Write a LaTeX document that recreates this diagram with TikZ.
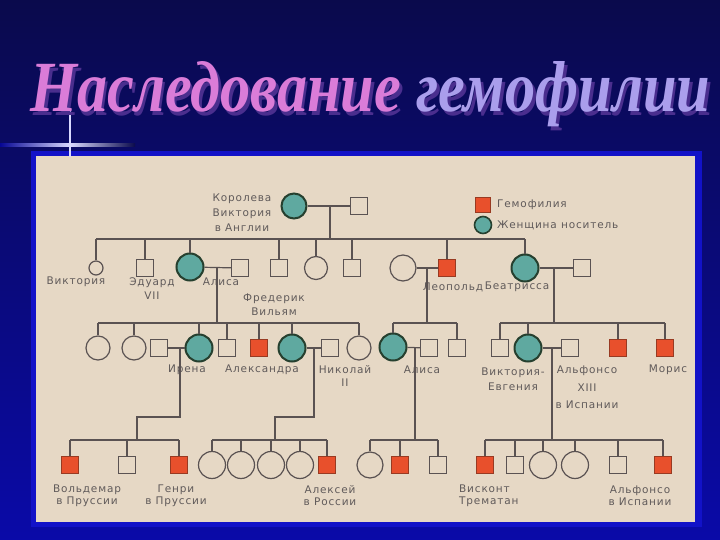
\documentclass[tikz,border=0pt]{standalone}
\usepackage{fontspec}
\usepackage{graphicx}
\usepackage{xcolor}
\newfontfamily\lblfont[LetterSpace=8]{DejaVu Sans}
\newfontfamily\titlefont{Liberation Serif}
\usepackage{tikz}
\usetikzlibrary{positioning}

\definecolor{slidetop}{HTML}{0A0A4C}
\definecolor{slidebot}{HTML}{0A0AA8}
\definecolor{glowblue}{HTML}{1212C8}
\definecolor{paper}{HTML}{E6D8C5}
\definecolor{ink}{HTML}{5A5252}
\definecolor{lblgray}{HTML}{605A5A}
\definecolor{carrierfill}{HTML}{5FA9A0}
\definecolor{carrierline}{HTML}{26402F}
\definecolor{sickfill}{HTML}{E8502C}
\definecolor{sickline}{HTML}{983A22}
\definecolor{titlepink}{HTML}{DA7CD8}
\definecolor{titlelav}{HTML}{AA9EEC}
\definecolor{titleshadow}{HTML}{4A2E8E}

\begin{document}
\begin{tikzpicture}[x=1pt,y=-1pt]
	\begin{scope}

\tikzset{male/.style={draw=ink,line width=1.2pt,rectangle,minimum size=17pt,inner sep=0}}
\tikzset{female/.style={draw=ink,line width=1.2pt,circle,minimum size=24pt,inner sep=0}}
\tikzset{carrier/.style={female,fill=carrierfill,draw=carrierline,line width=2pt,minimum size=27pt}}
\tikzset{sick/.style={male,fill=sickfill,draw=sickline}}
\tikzset{lbl/.style={font=\lblfont\fontsize{10.5}{14}\selectfont,text=lblgray,align=center,inner sep=0}}
\tikzset{tie/.style={draw=ink,line width=1.2pt}}

\useasboundingbox (0,0) rectangle (720,540);

% slide and the scanned sheet
\fill[top color=slidetop,bottom color=slidebot] (0,0) rectangle (720,540);
\fill[glowblue] (31,151) rectangle (702,527);
\fill[paper] (36,156) rectangle (695,522);

% the cross at the left
\shade[left color=slidetop!60!blue,right color=white!85!blue] (0,144) rectangle (70,146.5);
\shade[left color=white!85!blue,right color=slidetop] (70,144) rectangle (135,146.5);
\draw[white!85!blue,line width=1.2pt] (70,108) -- (70,157);

% title (shadow set under the letters)
\node(title)[anchor=base west,inner sep=0] at (30,112)
	{\resizebox{680pt}{50pt}{\titlefont\bfseries\itshape\fontsize{64}{70}\selectfont
	\rlap{\hspace{3pt}\raisebox{-3pt}{\textcolor{titleshadow}{Наследование гемофилии}}}%
	\textcolor{titlepink}{Наследование} \textcolor{titlelav}{гемофилии}}};

% legend
\node(keysick)[sick,minimum size=15pt] at (483,205){};
\node(keycar)[carrier,minimum size=17pt,line width=1.6pt] at (483,225){};
\node(lkeysick)[lbl,anchor=west] at (497,205){Гемофилия};
\node(lkeycar)[lbl,anchor=west] at (497,225){Женщина носитель};

% generation I
\node(qv)[carrier,minimum size=25pt] at (294,206){};
\node(alb)[male] at (359,206){};
\node(lqv)[lbl,font=\lblfont\fontsize{10.5}{15}\selectfont] at (242,213){Королева\\Виктория\\в Англии};

% generation II
\node(vic)[female,minimum size=14pt] at (96,268){};
\node(edw)[male] at (145,268){};
\node(ali)[carrier] at (190,267){};
\node(fre)[male] at (240,268){};
\node(g2a)[male] at (279,268){};
\node(g2b)[female,minimum size=23pt] at (316,268){};
\node(g2c)[male] at (352,268){};
\node(leow)[female,minimum size=26pt] at (403,268){};
\node(leo)[sick] at (447,268){};
\node(bea)[carrier] at (525,268){};
\node(hen)[male] at (582,268){};

\node(lvic)[lbl] at (76,282){Виктория};
\node(ledw)[lbl] at (152,289){Эдуард\\VII};
\node(lali)[lbl] at (221,282){Алиса};
\node(lfre)[lbl] at (274,305){Фредерик\\Вильям};
\node(lleo)[lbl] at (453,287){Леопольд};
\node(lbea)[lbl] at (517,287){Беатрисса};

\coordinate(m1) at (330,206);
\coordinate(r2) at (0,239);
\draw[tie] (qv) -- (alb);
\draw[tie] (m1) -- (m1 |- r2);
\draw[tie] (vic.north |- r2) -- (bea.north |- r2);
\foreach \c in {vic,edw,ali,g2a,g2b,g2c,leo,bea}
{
\draw[tie] (\c.north |- r2) -- (\c.north);
}

% generation III
\node(a1)[female] at (98,348){};
\node(a2)[female] at (134,348){};
\node(irs)[male] at (159,348){};
\node(ire)[carrier] at (199,348){};
\node(a3)[male] at (227,348){};
\node(a4)[sick] at (259,348){};
\node(alx)[carrier] at (292,348){};
\node(nic)[male] at (330,348){};
\node(a5)[female] at (359,348){};
\node(al2)[carrier] at (393,347){};
\node(al2h)[male] at (429,348){};
\node(l2)[male] at (457,348){};
\node(b1)[male] at (500,348){};
\node(ve)[carrier] at (528,348){};
\node(alf)[male] at (570,348){};
\node(b2)[sick] at (618,348){};
\node(mau)[sick] at (665,348){};

\node(lire)[lbl] at (187,370){Ирена};
\node(lalx)[lbl] at (262,370){Александра};
\node(lnic)[lbl,font=\lblfont\fontsize{10.5}{13}\selectfont] at (345,376.5){Николай\\II};
\node(lal2)[lbl] at (422,370){Алиса};
\node(lve)[lbl,font=\lblfont\fontsize{10.5}{15}\selectfont] at (513,379.5){Виктория-\\Евгения};
\node(lalf)[lbl,font=\lblfont\fontsize{10.5}{17.5}\selectfont] at (587,387.5){Альфонсо\\XIII\\в Испании};
\node(lmau)[lbl] at (668,370){Морис};

\coordinate(m2) at (217,267);
\coordinate(m3) at (427,268);
\coordinate(m4) at (554,268);
\coordinate(r3) at (0,323);
\draw[tie] (ali) -- (fre);
\draw[tie] (leow) -- (leo);
\draw[tie] (bea) -- (hen);
\draw[tie] (m2) -- (m2 |- r3);
\draw[tie] (m3) -- (m3 |- r3);
\draw[tie] (m4) -- (m4 |- r3);
\draw[tie] (a1.north |- r3) -- (a5.north |- r3);
\draw[tie] (al2.north |- r3) -- (l2.north |- r3);
\draw[tie] (b1.north |- r3) -- (mau.north |- r3);
\foreach \c in {a1,a2,ire,a3,a4,alx,a5,al2,l2,b1,ve,b2,mau}
{
\draw[tie] (\c.north |- r3) -- (\c.north);
}

% generation IV
\node(wal)[sick] at (70,465){};
\node(p1)[male] at (127,465){};
\node(hnr)[sick] at (179,465){};
\node(d1)[female,minimum size=27pt] at (212,465){};
\node(d2)[female,minimum size=27pt] at (241,465){};
\node(d3)[female,minimum size=27pt] at (271,465){};
\node(d4)[female,minimum size=27pt] at (300,465){};
\node(alk)[sick] at (327,465){};
\node(c1)[female,minimum size=26pt] at (370,465){};
\node(c2)[sick] at (400,465){};
\node(c3)[male] at (438,465){};
\node(vis)[sick] at (485,465){};
\node(e1)[male] at (515,465){};
\node(e2)[female,minimum size=27pt] at (543,465){};
\node(e3)[female,minimum size=27pt] at (575,465){};
\node(e4)[male] at (618,465){};
\node(alf2)[sick] at (663,465){};

\node(lwal)[lbl,font=\lblfont\fontsize{10.5}{12}\selectfont] at (87,496){Вольдемар\\в Пруссии};
\node(lhnr)[lbl,font=\lblfont\fontsize{10.5}{12}\selectfont] at (176,496){Генри\\в Пруссии};
\node(lalk)[lbl,font=\lblfont\fontsize{10.5}{12}\selectfont] at (330,496){Алексей\\в России};
\node(lvis)[lbl,font=\lblfont\fontsize{10.5}{12}\selectfont,anchor=west,align=left] at (459,496){Висконт\\Трематан};
\node(lalf2)[lbl,font=\lblfont\fontsize{10.5}{12}\selectfont] at (640,496){Альфонсо\\в Испании};

\coordinate(m5) at (180,348);
\coordinate(k5) at (137,417);
\coordinate(m6) at (314,348);
\coordinate(k6) at (275,417);
\coordinate(m7) at (415,347);
\coordinate(m8) at (552,348);
\coordinate(r4) at (0,440);
\draw[tie] (irs) -- (ire);
\draw[tie] (alx) -- (nic);
\draw[tie] (al2) -- (al2h);
\draw[tie] (ve) -- (alf);
\draw[tie] (m5) |- (k5) -- (k5 |- r4);
\draw[tie] (m6) |- (k6) -- (k6 |- r4);
\draw[tie] (m7) -- (m7 |- r4);
\draw[tie] (m8) -- (m8 |- r4);
\draw[tie] (wal.north |- r4) -- (hnr.north |- r4);
\draw[tie] (d1.north |- r4) -- (alk.north |- r4);
\draw[tie] (c1.north |- r4) -- (c3.north |- r4);
\draw[tie] (vis.north |- r4) -- (alf2.north |- r4);
\foreach \c in {wal,p1,hnr,d1,d2,d3,d4,alk,c1,c2,c3,vis,e1,e2,e3,e4,alf2}
{
\draw[tie] (\c.north |- r4) -- (\c.north);
}

	\end{scope}
\end{tikzpicture}
\end{document}
